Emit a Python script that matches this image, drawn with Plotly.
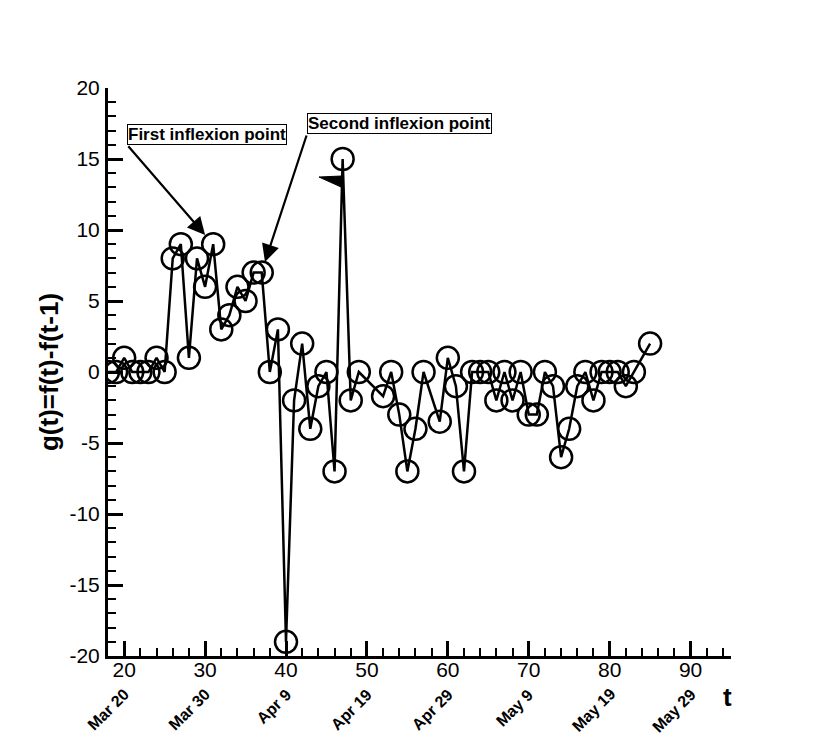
import plotly.graph_objects as go

# day index t and daily change g(t) = f(t) - f(t-1)
t_vals = [18, 19, 20, 21, 22, 23, 24, 25, 26, 27, 28, 29, 30, 31, 32, 33, 34, 35,
          36, 37, 38, 39, 40, 41, 42, 43, 44, 45, 46, 47, 48, 49, 52, 53, 54, 55,
          56, 57, 59, 60, 61, 62, 63, 64, 65, 66, 67, 68, 69, 70, 71, 72, 73, 74,
          75, 76, 77, 78, 79, 80, 81, 82, 83, 85]
g_vals = [0, 0, 1, 0, 0, 0, 1, 0, 8, 9, 1, 8, 6, 9, 3, 4, 6, 5,
          7, 7, 0, 3, -19, -2, 2, -4, -1, 0, -7, 15, -2, 0, -1.7, 0, -3, -7,
          -4, 0, -3.5, 1, -1, -7, 0, 0, 0, -2, 0, -2, 0, -3, -3, 0, -1, -6,
          -4, -1, 0, -2, 0, 0, 0, -1, 0, 2]

x_ticks = [20, 30, 40, 50, 60, 70, 80, 90]
date_labels = ["Mar 20", "Mar 30", "Apr 9", "Apr 19", "Apr 29", "May 9", "May 19", "May 29"]
y_ticks = [-20, -15, -10, -5, 0, 5, 10, 15, 20]
y_tick_text = ["-20", "-15", "-10", "-5", "0", "5", "10", "15", "20"]

FONT = "Arial, Liberation Sans, Helvetica, sans-serif"

fig = go.Figure()
fig.add_trace(go.Scatter(
    x=t_vals, y=g_vals, mode="lines+markers",
    line=dict(color="black", width=2.5),
    marker=dict(symbol="circle-open", size=22, color="black", line=dict(width=2.5)),
    showlegend=False,
))

axis_common = dict(
    showline=True, linecolor="black", linewidth=3,
    ticks="inside", ticklen=15, tickwidth=3, tickcolor="black",
    showgrid=False, zeroline=False,
    tickfont=dict(family=FONT, size=21, color="black"),
)

fig.update_xaxes(
    range=[18, 95], tickvals=x_ticks, ticklabelstandoff=-7,
    minor=dict(dtick=2, ticks="inside", ticklen=8, tickwidth=1.5, tickcolor="black"),
    **axis_common,
)
fig.update_yaxes(
    range=[-20, 20], tickvals=y_ticks, ticktext=y_tick_text, ticklabelstandoff=1,
    minor=dict(dtick=1, ticks="inside", ticklen=8, tickwidth=1.5, tickcolor="black"),
    title=dict(text="<b>g(t)=f(t)-f(t-1)</b>", font=dict(family=FONT, size=26, color="black"),
               standoff=4),
    **axis_common,
)

# rotated date labels under the numeric ticks
for tv, lab in zip(x_ticks, date_labels):
    fig.add_annotation(
        x=tv, y=-0.047, xref="x", yref="paper", text=f"<b>{lab}</b>",
        textangle=-45, xanchor="right", yanchor="top", xshift=11,
        showarrow=False, font=dict(family=FONT, size=16, color="black"),
    )

fig.add_annotation(
    x=0.994, y=-0.072, xref="paper", yref="paper", text="<b>t</b>",
    xanchor="center", yanchor="middle",
    showarrow=False, font=dict(family=FONT, size=26, color="black"),
)

# labelled boxes and their arrows
boxes = [
    ("First inflexion point", 20.35, 16.0, 30.0, 9.65),
    ("Second inflexion point", 42.6, 16.76, 37.4, 7.75),
]
for text, bx, by, hx, hy in boxes:
    fig.add_annotation(
        x=bx, y=by, xref="x", yref="y", text=f"<b>{text}</b>",
        xanchor="left", yanchor="bottom", showarrow=False,
        bordercolor="black", borderwidth=1, borderpad=0, bgcolor="white",
        font=dict(family=FONT, size=17, color="black"),
    )
    fig.add_annotation(
        x=hx, y=hy, ax=bx, ay=by, xref="x", yref="y", axref="x", ayref="y",
        text="", showarrow=True, arrowhead=2, arrowsize=1.6, arrowwidth=2.2,
        arrowcolor="black",
    )

# small stray flag near the peak
fig.add_shape(type="path", xref="x", yref="y",
              path="M 44.08 13.73 L 46.8 13.8 L 46.8 13.03 Z",
              fillcolor="black", line=dict(color="black", width=1))

# page body has an 8px margin, so the figure is 8px smaller than the window
fig.update_layout(
    width=822, height=730,
    margin=dict(l=100, r=99, t=80, b=82),
    plot_bgcolor="white", paper_bgcolor="white",
    font=dict(family=FONT, color="black"),
)

fig.write_html("out.html")
